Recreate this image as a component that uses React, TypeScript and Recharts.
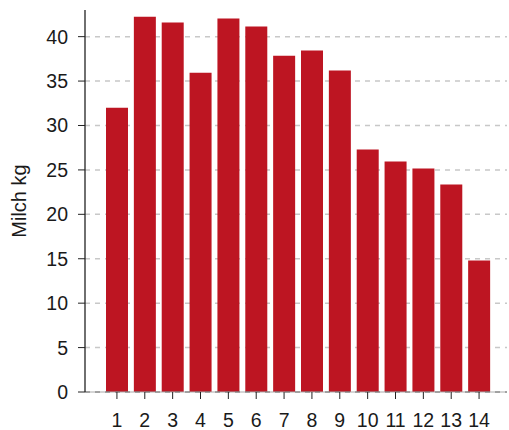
import React from "react"
import { BarChart, Bar, XAxis, YAxis, CartesianGrid, ReferenceLine } from "recharts"

const categories = ["1", "2", "3", "4", "5", "6", "7", "8", "9", "10", "11", "12", "13", "14"]
const milk = [32.0, 42.25, 41.6, 35.95, 42.05, 41.15, 37.85, 38.45, 36.2, 27.3, 25.95, 25.15, 23.35, 14.8]
const yTicks = [0, 5, 10, 15, 20, 25, 30, 35, 40]

const RED = "#bd1522"
const FONT = "'Liberation Sans', Arial, sans-serif"

const data = categories.map((c, i) => ({ name: c, value: milk[i] }))

// rotated axis title, baseline on the right side of the glyphs
const YLabel = (props: any) => {
  const vb = props.viewBox || { x: 0, y: 0, height: 0 }
  const x = 26
  const y = vb.y + vb.height / 2
  return (
    <text
      x={x}
      y={y}
      transform={`rotate(-90, ${x}, ${y})`}
      textAnchor="middle"
      fontSize={20}
      fontFamily={FONT}
      fill="#1a1a1a"
    >
      Milch kg
    </text>
  )
}

export default function App() {
  return (
    <div style={{ position: "absolute", left: 0, top: 0, background: "#fff" }}>
      <BarChart width={509} height={430} data={data} margin={{ top: 10, right: 2, bottom: 8, left: 0 }}>
        <CartesianGrid
          vertical={false}
          horizontalValues={yTicks.slice(1)}
          stroke="#c8c8c8"
          strokeDasharray="5 5"
          strokeWidth={1.5}
        />
        <XAxis
          dataKey="name"
          padding={{ left: 18, right: 14 }}
          height={30}
          tickSize={7}
          tickMargin={14}
          axisLine={{ stroke: "#aaa" }}
          tickLine={{ stroke: "#222" }}
          tick={{ fill: "#1a1a1a", fontSize: 19.5, fontFamily: FONT }}
          interval={0}
        />
        <YAxis
          width={85}
          domain={[0, 43]}
          ticks={yTicks}
          tickSize={7}
          tickMargin={10}
          axisLine={{ stroke: "#222", strokeWidth: 1.3 }}
          tickLine={{ stroke: "#222" }}
          tick={{ fill: "#1a1a1a", fontSize: 19.5, fontFamily: FONT }}
          label={<YLabel />}
        />
        <Bar dataKey="value" fill={RED} barSize={22} isAnimationActive={false} />
        <ReferenceLine y={0} stroke="#333" strokeDasharray="5 5" />
      </BarChart>
    </div>
  )
}
